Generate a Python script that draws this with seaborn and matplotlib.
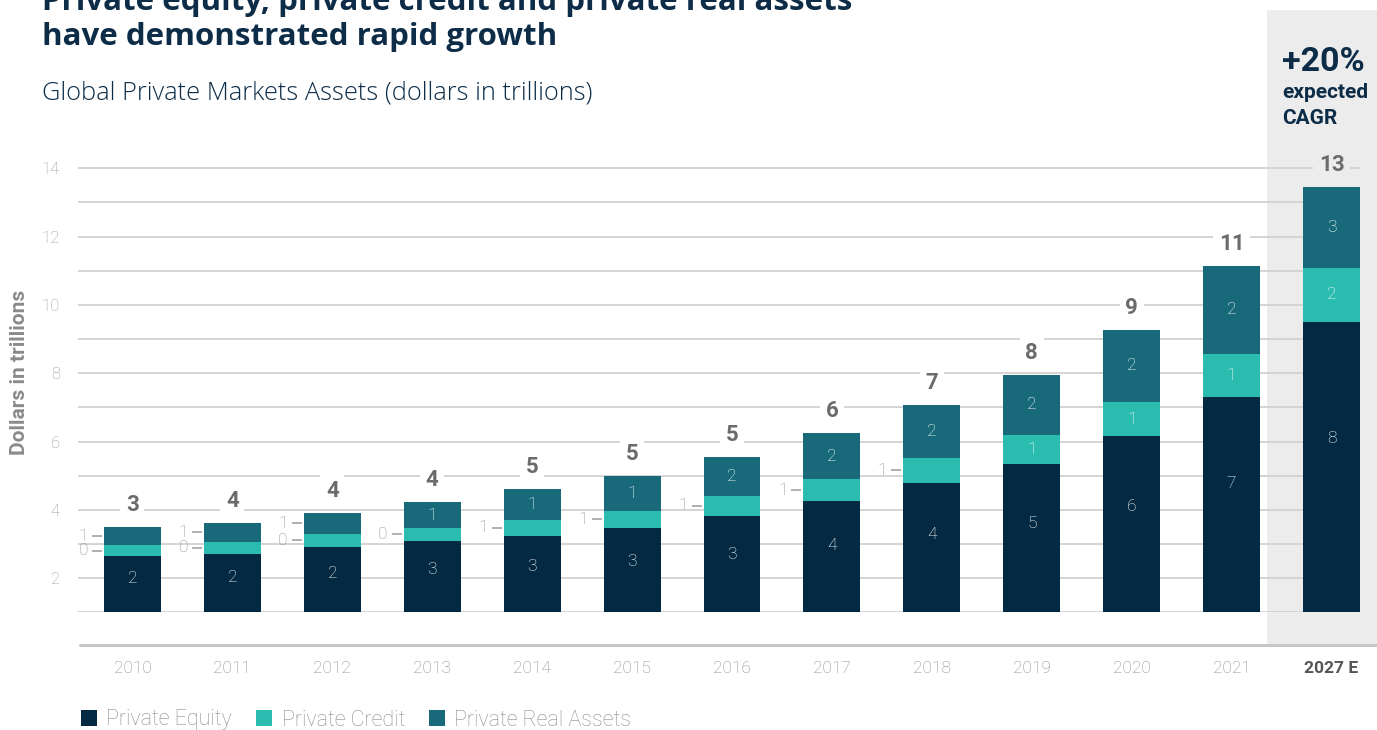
import matplotlib
matplotlib.use("Agg")
import matplotlib.pyplot as plt
import seaborn as sns
import numpy as np
import pandas as pd
from matplotlib.patches import Rectangle, Patch
from matplotlib.lines import Line2D

# ---------------- data ----------------
years = ["2010", "2011", "2012", "2013", "2014", "2015", "2016",
         "2017", "2018", "2019", "2020", "2021", "2027 E"]
private_equity = [2.65, 2.71, 2.91, 3.09, 3.24, 3.47, 3.82, 4.26, 4.79, 5.34, 6.16, 7.31, 9.50]
private_credit = [0.32, 0.35, 0.39, 0.38, 0.47, 0.50, 0.59, 0.64, 0.73, 0.85, 1.00, 1.26, 1.58]
private_real_assets = [0.52, 0.56, 0.61, 0.76, 0.90, 1.02, 1.14, 1.35, 1.55, 1.76, 2.11, 2.57, 2.37]
pe_labels = ["2", "2", "2", "3", "3", "3", "3", "4", "4", "5", "6", "7", "8"]
pc_labels = ["0", "0", "0", "0", "1", "1", "1", "1", "1", "1", "1", "1", "2"]
ra_labels = ["1", "1", "1", "1", "1", "1", "2", "2", "2", "2", "2", "2", "3"]
total_labels = ["3", "4", "4", "4", "5", "5", "5", "6", "7", "8", "9", "11", "13"]
series_names = ["Private Equity", "Private Credit", "Private Real Assets"]
y_ticks = list(range(1, 15))

C_PE = "#032a42"
C_PC = "#2abdaf"
C_RA = "#186a7a"
NAVY = "#0d2c47"

sns.set_theme(style="white")
plt.rcParams["font.family"] = ["Roboto", "DejaVu Sans"]

W, H = 1377, 730
fig = plt.figure(figsize=(W / 100, H / 100), dpi=100)

def fx(px):
    return px / W

def fy(py):
    return 1 - py / H

# axes placement
ax_left, ax_right = 78, 1360
ax_top, ax_bottom = 147.7, 612.4
ax = fig.add_axes([fx(ax_left), fy(ax_bottom), fx(ax_right - ax_left), (ax_bottom - ax_top) / H])
ax.patch.set_alpha(0)

# shaded forecast panel (figure-level, behind axes)
fig.patches.append(Rectangle((fx(1267), fy(645)), fx(W - 1267), (645 - 10) / H,
                             transform=fig.transFigure, facecolor="#ececec",
                             edgecolor="none", zorder=-10))

df = pd.DataFrame({"year": years, "pe": private_equity, "pc": private_credit,
                   "ra": private_real_assets})
df["cum_pc"] = df["pe"] + df["pc"]
df["total"] = df["cum_pc"] + df["ra"]

bw = 0.57
for col, c in [("total", C_RA), ("cum_pc", C_PC), ("pe", C_PE)]:
    sns.barplot(data=df, x="year", y=col, color=c, saturation=1, width=bw, ax=ax,
                zorder=3, linewidth=0, edgecolor="none")

ax.set_xlim(-0.545, 12.285)
ax.set_ylim(1, 14.6)
ax.set_yticks(y_ticks, labels=[str(v) if v % 2 == 0 else "" for v in y_ticks])
ax.grid(axis="y", color="#d4d4d4", linewidth=1.4, zorder=0)
ax.grid(axis="x", visible=False)
for s in ax.spines.values():
    s.set_visible(False)
ax.tick_params(axis="both", length=0)
ax.tick_params(axis="y", pad=13, labelsize=12, labelcolor="#9b9b9b")
ax.tick_params(axis="x", pad=35, labelsize=12.5, labelcolor="#8a8a8a")
for lab in ax.get_yticklabels():
    lab.set_fontweight("light")
for i, lab in enumerate(ax.get_xticklabels()):
    lab.set_fontweight("light")
    if i == len(years) - 1:
        lab.set_fontweight("bold")
        lab.set_color("#555555")
ax.set_xlabel("")
ax.set_ylabel("")

# segment labels
thr = 0.75
for i in range(len(years)):
    pe = private_equity[i]
    pc = private_credit[i]
    ra = private_real_assets[i]
    segs = [(1 + (pe - 1) * 0.6, pe, pe_labels[i]),
            (pe + pc / 2, pc, pc_labels[i]),
            (pe + pc + ra / 2, ra, ra_labels[i])]
    for k, (ymid, h, txt) in enumerate(segs):
        if k == 0 or h >= thr:
            ax.text(i, ymid, txt, ha="center", va="center", color="white",
                    fontsize=12.5, fontweight="light", zorder=5)
        else:
            left = i - bw / 2
            ax.plot([left - 0.12, left - 0.02], [ymid, ymid], color="#9a9a9a",
                    lw=1.1, zorder=4, solid_capstyle="butt")
            ax.text(left - 0.16, ymid, txt, ha="right", va="center", color="#8f8f8f",
                    fontsize=12.5, fontweight="light", zorder=5)
    tot = pe + pc + ra
    bg = "#ececec" if i == len(years) - 1 else "white"
    ax.annotate(total_labels[i], (i, tot), xytext=(0, 22), textcoords="offset pixels",
                ha="center", va="center", fontsize=16, fontweight="bold", color="#6b6b6b",
                zorder=6, annotation_clip=False,
                bbox=dict(boxstyle="square,pad=0.25", fc=bg, ec="none"))

# bottom baseline
fig.add_artist(Line2D([fx(80), fx(W)], [fy(645), fy(645)], transform=fig.transFigure,
                      color="#c6c6c6", lw=2.2))

# titles
TFONT = ["Open Sans", "DejaVu Sans"]
fig.text(fx(42), fy(10), "Private equity, private credit and private real assets",
         ha="left", va="baseline", fontsize=22.5, fontweight="bold", color=NAVY, family=TFONT)
fig.text(fx(42), fy(45), "have demonstrated rapid growth",
         ha="left", va="baseline", fontsize=22.5, fontweight="bold", color=NAVY, family=TFONT)
fig.text(fx(42), fy(93), "Global Private Markets Assets (dollars in trillions)",
         ha="left", va="center", fontsize=18.3, fontweight="light", color=NAVY, family=TFONT)

# CAGR annotation
fig.text(fx(1282), fy(62), "+20%", ha="left", va="center", fontsize=24.5,
         fontweight="bold", color=NAVY)
fig.text(fx(1282), fy(93), "expected", ha="left", va="center", fontsize=15,
         fontweight="bold", color=NAVY)
fig.text(fx(1282), fy(119), "CAGR", ha="left", va="center", fontsize=15,
         fontweight="bold", color=NAVY)

# y axis label
fig.text(fx(20), fy(372), "Dollars in trillions", rotation=90, ha="center", va="center",
         fontsize=15, fontweight="bold", color="#8a8a8a")

# legend
handles = [Patch(facecolor=c, edgecolor="none", label=n)
           for c, n in zip([C_PE, C_PC, C_RA], series_names)]
leg = fig.legend(handles=handles, loc="center left", bbox_to_anchor=(fx(72), fy(720)),
                 ncol=3, frameon=False, fontsize=15.5, handlelength=0.75, handleheight=0.75,
                 handletextpad=0.45, columnspacing=1.1, borderaxespad=0)
for t in leg.get_texts():
    t.set_color("#8c8c8c")
    t.set_fontweight("light")

fig.savefig("out.png", dpi=100)
